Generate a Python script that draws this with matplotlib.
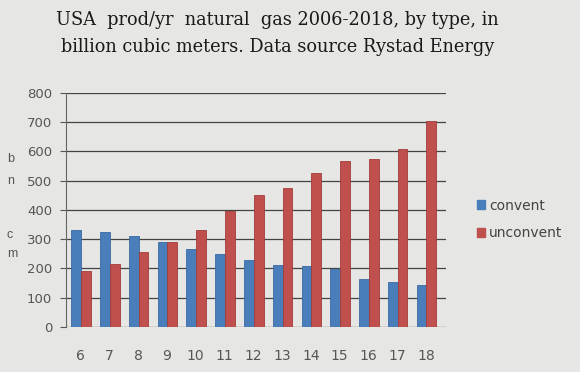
import matplotlib
matplotlib.use("Agg")
import matplotlib.pyplot as plt
import numpy as np

years = ["6", "7", "8", "9", "10", "11", "12", "13", "14", "15", "16", "17", "18"]
convent = [330, 325, 312, 292, 268, 248, 230, 213, 207, 197, 163, 155, 145]
unconvent = [190, 217, 258, 290, 333, 395, 450, 475, 525, 567, 573, 608, 703]
y_ticks = [0, 100, 200, 300, 400, 500, 600, 700, 800]

BG = "#e6e6e4"
BLUE = "#4a7ebb"
RED = "#c0504d"

fig = plt.figure(figsize=(5.8, 3.72), dpi=100, facecolor=BG)
ax = fig.add_axes([0.114, 0.121, 0.655, 0.629], facecolor=BG)

x = np.arange(len(years))
w = 0.34
ax.bar(x - w / 2 + 0.02, convent, width=w, color=BLUE, edgecolor="#3a6aa5", linewidth=0.6, zorder=3)
ax.bar(x + w / 2 + 0.02, unconvent, width=w, color=RED, edgecolor="#a03c3a", linewidth=0.6, zorder=3)

ax.set_xlim(-0.5, len(years) - 0.3)
ax.set_ylim(0, 800)
ax.set_yticks(y_ticks)
ax.set_yticklabels([str(v) for v in y_ticks], fontsize=9.5, color="#555555")
ax.set_xticks(x)
ax.set_xticklabels(years, fontsize=10, color="#555555")
ax.tick_params(axis="x", length=0, pad=16)
ax.tick_params(axis="y", length=4, pad=6, color="#555555")
ax.grid(axis="y", color="#444444", linewidth=0.9, zorder=0)
for side in ["top", "right", "bottom"]:
    ax.spines[side].set_visible(False)
ax.spines["left"].set_color("#666666")

# broken y-axis label, letters stacked
for ch, yp in [("b", 0.565), ("n", 0.505), ("c", 0.36), ("m", 0.31)]:
    fig.text(0.012, yp, ch, fontsize=9, color="#555555", family="Liberation Sans")

fig.text(0.478, 0.945, "USA  prod/yr  natural  gas 2006-2018, by type, in",
         ha="center", va="center", fontsize=12.8, family="DejaVu Serif", color="#1a1a1a")
fig.text(0.478, 0.873, "billion cubic meters. Data source Rystad Energy",
         ha="center", va="center", fontsize=12.8, family="DejaVu Serif", color="#1a1a1a")

h1 = plt.Rectangle((0, 0), 1, 1, color=BLUE)
h2 = plt.Rectangle((0, 0), 1, 1, color=RED)
fig.legend([h1, h2], ["convent", "unconvent"], loc="center left", bbox_to_anchor=(0.80, 0.41),
           frameon=False, fontsize=10, handlelength=0.6, handleheight=0.6, handletextpad=0.3,
           labelspacing=1.0, labelcolor="#444444")

fig.savefig("out.png", dpi=100, facecolor=BG)
